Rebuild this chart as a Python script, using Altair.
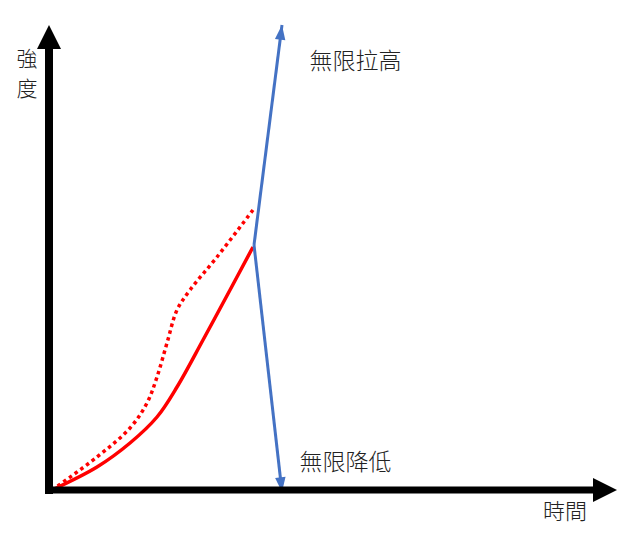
import altair as alt
import pandas as pd

# Read-off values (time t, intensity I), origin at the axes corner
solid_t = [3, 48, 81, 108, 128, 154, 181, 204]
solid_i = [0, 23, 47, 73, 103, 150, 200, 243]

dot_t = [3, 48, 81, 98, 108, 118, 128, 141, 168, 204]
dot_i = [0, 33, 62, 87, 113, 147, 180, 200, 233, 280]

blue_up_t = [205, 233]
blue_up_i = [245, 465]
blue_dn_t = [205, 233]
blue_dn_i = [245, -2]

labels = ["強", "度", "無限拉高", "無限降低", "時間"]
label_t = [-22, -22, 306.5, 296.5, 516]
label_i = [430, 400, 428, 27, -22]
label_size = [21, 21, 23, 23, 22]

axis_end_t = 546
axis_end_i = 442
arrow_tip_t = 568
arrow_tip_i = 465

X = alt.Scale(domain=[-41, 586], nice=False, zero=False)
Y = alt.Scale(domain=[-42, 482], nice=False, zero=False)

def xenc(f="t"):
    return alt.X(f"{f}:Q", scale=X, axis=None)

def yenc(f="i"):
    return alt.Y(f"{f}:Q", scale=Y, axis=None)

solid = alt.Chart(pd.DataFrame({"t": solid_t, "i": solid_i, "o": range(len(solid_t))})).mark_line(
    color="#FF0000", strokeWidth=3.5, interpolate="catmull-rom"
).encode(x=xenc(), y=yenc(), order="o:Q")

dotted = alt.Chart(pd.DataFrame({"t": dot_t, "i": dot_i, "o": range(len(dot_t))})).mark_line(
    color="#FF0000", strokeWidth=3.5, strokeDash=[3.5, 3.5], interpolate="catmull-rom"
).encode(x=xenc(), y=yenc(), order="o:Q")

blue_up = alt.Chart(pd.DataFrame({"t": blue_up_t, "i": blue_up_i})).mark_line(
    color="#4472C4", strokeWidth=3
).encode(x=xenc(), y=yenc())
blue_dn = alt.Chart(pd.DataFrame({"t": blue_dn_t, "i": blue_dn_i})).mark_line(
    color="#4472C4", strokeWidth=3
).encode(x=xenc(), y=yenc())

blue_heads = alt.Chart(pd.DataFrame({
    "t": [blue_up_t[1], blue_dn_t[1]],
    "i": [blue_up_i[1], blue_dn_i[1]],
    "a": [7.3, 353.5],
    "s": ["M0,0L1,2.8L-1,2.8Z", "M0,0L1,-2.8L-1,-2.8Z"],
})).mark_point(filled=True, color="#4472C4", opacity=1, strokeWidth=0).encode(
    x=xenc(), y=yenc(), angle=alt.Angle("a:Q", scale=None),
    shape=alt.Shape("s:N", scale=None), size=alt.value(110)
)

yaxis = alt.Chart(pd.DataFrame({"t": [0], "i": [-4], "i2": [axis_end_i]})).mark_rule(
    color="black", strokeWidth=8
).encode(x=xenc(), y=yenc(), y2="i2:Q")
xaxis = alt.Chart(pd.DataFrame({"t": [-4], "t2": [axis_end_t], "i": [0]})).mark_rule(
    color="black", strokeWidth=7
).encode(x=xenc(), x2="t2:Q", y=yenc())

heads = alt.Chart(pd.DataFrame({
    "t": [0, arrow_tip_t],
    "i": [arrow_tip_i, 0],
    "s": ["M0,0L1,2L-1,2Z", "M0,0L-2,-1L-2,1Z"],
})).mark_point(filled=True, color="black", opacity=1, strokeWidth=0).encode(
    x=xenc(), y=yenc(), shape=alt.Shape("s:N", scale=None), size=alt.value(576)
)

text = alt.Chart(pd.DataFrame({"t": label_t, "i": label_i, "lab": labels, "fs": label_size})).mark_text(
    font="Noto Sans CJK TC", color="#222222", align="center", baseline="middle", fontWeight=300
).encode(x=xenc(), y=yenc(), text="lab:N", size=alt.Size("fs:Q", scale=None))

chart = alt.layer(dotted, solid, blue_up, blue_dn, blue_heads, yaxis, xaxis, heads, text).properties(
    width=627, height=524, padding=0, autosize=alt.AutoSizeParams(type="none"), background="white"
).configure_view(stroke=None)

chart.save("out.html", embed_options={"renderer": "svg", "actions": False})
